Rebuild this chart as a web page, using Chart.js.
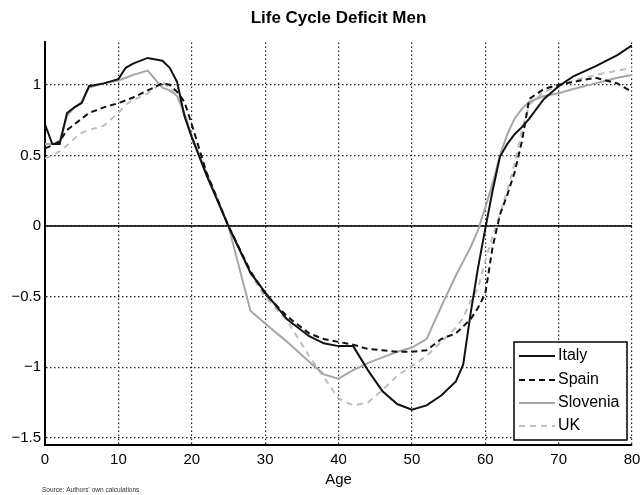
<!DOCTYPE html>
<html>
<head>
<meta charset="utf-8">
<script src="https://cdn.jsdelivr.net/npm/chart.js@4"></script>
<style>
  body { margin: 0; background: #fff; }
</style>
</head>
<body>
<canvas id="myChart" width="641" height="495"></canvas>
<script>
// ages (x) shared by every series
const ages = [0,1,2,3,4,5,6,8,10,11,12,14,16,17,18,19,20,22,25,28,30,33,36,38,40,42,44,46,48,50,52,54,56,57,58,59,60,61,62,63,64,65,66,68,70,72,75,78,80];

const italy    = [0.72,0.58,0.58,0.80,0.84,0.87,0.99,1.01,1.04,1.12,1.15,1.19,1.17,1.12,1.02,0.78,0.63,0.36,0.0,-0.33,-0.47,-0.66,-0.78,-0.83,-0.85,-0.85,-1.02,-1.17,-1.26,-1.30,-1.27,-1.20,-1.10,-0.98,-0.62,-0.30,-0.02,0.25,0.49,0.58,0.65,0.70,0.76,0.90,0.99,1.06,1.13,1.21,1.28];
const spain    = [0.55,0.57,0.60,0.68,0.72,0.76,0.80,0.84,0.87,0.89,0.91,0.96,1.01,1.00,0.95,0.88,0.72,0.38,0.0,-0.32,-0.48,-0.64,-0.76,-0.80,-0.82,-0.84,-0.87,-0.88,-0.89,-0.89,-0.88,-0.80,-0.76,-0.71,-0.66,-0.58,-0.48,-0.15,0.08,0.22,0.38,0.60,0.90,0.97,1.00,1.02,1.05,1.01,0.95];
const slovenia = [0.58,0.58,0.60,0.78,0.84,0.88,0.98,1.01,1.03,1.05,1.07,1.10,0.98,0.96,0.92,0.80,0.63,0.38,0.0,-0.60,-0.69,-0.82,-0.96,-1.05,-1.08,-1.02,-0.97,-0.93,-0.89,-0.86,-0.80,-0.57,-0.35,-0.25,-0.15,-0.03,0.13,0.30,0.50,0.65,0.76,0.83,0.88,0.92,0.94,0.97,1.01,1.05,1.07];
const uk       = [0.48,0.50,0.53,0.57,0.62,0.66,0.68,0.71,0.80,0.86,0.89,0.94,1.02,0.98,0.92,0.80,0.64,0.38,0.0,-0.34,-0.50,-0.67,-0.92,-1.07,-1.22,-1.27,-1.25,-1.16,-1.06,-0.99,-0.92,-0.82,-0.72,-0.65,-0.53,-0.44,-0.25,-0.07,0.08,0.25,0.44,0.68,0.86,0.95,0.99,1.03,1.07,1.10,1.12];

const xTicks = [0,10,20,30,40,50,60,70,80];
const yTicks = [-1.5,-1,-0.5,0,0.5,1];

const toPoints = (vals) => vals.map((v, i) => ({x: ages[i], y: v}));
const fontName = "'Liberation Sans', Arial, sans-serif";

// zero line, legend box and source note
const extras = {
    id: 'extras',
    beforeDatasetsDraw(chart) {
        const {ctx, chartArea, scales} = chart;
        const y0 = scales.y.getPixelForValue(0);
        ctx.save();
        ctx.strokeStyle = '#000';
        ctx.lineWidth = 1.6;
        ctx.beginPath();
        ctx.moveTo(chartArea.left, y0);
        ctx.lineTo(chartArea.right, y0);
        ctx.stroke();
        ctx.restore();
    },
    afterDraw(chart) {
        const {ctx, chartArea} = chart;
        const bx = chartArea.right - 118, by = chartArea.bottom - 103;
        const bw = 113, bh = 98;
        ctx.save();
        ctx.fillStyle = '#fff';
        ctx.fillRect(bx, by, bw, bh);
        ctx.strokeStyle = '#000';
        ctx.lineWidth = 1.5;
        ctx.strokeRect(bx, by, bw, bh);
        const rows = [14, 38, 61, 84];
        chart.data.datasets.forEach((ds, i) => {
            const ly = by + rows[i];
            ctx.strokeStyle = ds.borderColor;
            ctx.lineWidth = ds.borderWidth;
            ctx.setLineDash(ds.borderDash || []);
            ctx.beginPath();
            ctx.moveTo(bx + 5, ly);
            ctx.lineTo(bx + 41, ly);
            ctx.stroke();
            ctx.setLineDash([]);
            ctx.fillStyle = '#000';
            ctx.font = '16px ' + fontName;
            ctx.textBaseline = 'middle';
            ctx.textAlign = 'left';
            ctx.fillText(ds.label, bx + 44, ly);
        });
        ctx.font = '6.5px ' + fontName;
        ctx.fillStyle = '#333';
        ctx.textBaseline = 'middle';
        ctx.fillText("Source: Authors' own calculations", 42, 490);
        ctx.restore();
    }
};

const ctx = document.getElementById('myChart').getContext('2d');
const myChart = new Chart(ctx, {
    type: 'line',
    data: {
        datasets: [
            {
                label: 'Italy',
                data: toPoints(italy),
                borderColor: '#111',
                borderWidth: 2,
                pointRadius: 0
            },
            {
                label: 'Spain',
                data: toPoints(spain),
                borderColor: '#111',
                borderWidth: 2,
                borderDash: [6, 4],
                pointRadius: 0
            },
            {
                label: 'Slovenia',
                data: toPoints(slovenia),
                borderColor: '#a6a6a6',
                borderWidth: 2,
                pointRadius: 0
            },
            {
                label: 'UK',
                data: toPoints(uk),
                borderColor: '#bdbdbd',
                borderWidth: 2,
                borderDash: [6, 5],
                pointRadius: 0
            }
        ]
    },
    options: {
        responsive: false,
        animation: false,
        layout: { padding: { left: 0, right: 9, top: 0, bottom: 1 } },
        plugins: {
            legend: { display: false },
            tooltip: { enabled: false },
            title: {
                display: true,
                fullSize: false,
                text: 'Life Cycle Deficit Men',
                color: '#000',
                font: { family: fontName, size: 17, weight: 'bold' },
                padding: { top: 8, bottom: 14 }
            }
        },
        scales: {
            x: {
                type: 'linear',
                min: 0,
                max: 80,
                afterBuildTicks: (scale) => { scale.ticks = xTicks.map(v => ({value: v})); },
                afterFit: (scale) => { scale.paddingRight = 0; scale.paddingLeft = 0; },
                ticks: {
                    color: '#000',
                    padding: 6,
                    font: { family: fontName, size: 15 }
                },
                grid: { color: '#222', lineWidth: 1.2, drawTicks: false },
                border: { display: true, color: '#000', width: 2, dash: [1.5, 2.5] },
                title: {
                    display: true,
                    text: 'Age',
                    color: '#000',
                    font: { family: fontName, size: 15 },
                    padding: { top: -4, bottom: 5 }
                }
            },
            y: {
                min: -1.55,
                max: 1.3,
                afterBuildTicks: (scale) => { scale.ticks = yTicks.map(v => ({value: v})); },
                afterFit: (scale) => { scale.width = 45; },
                ticks: {
                    color: '#000',
                    padding: 4,
                    font: { family: fontName, size: 15 },
                    callback: (v) => String(v).replace('-', '\u2212')
                },
                grid: { color: '#222', lineWidth: 1.2, drawTicks: false },
                border: { display: true, color: '#000', width: 2, dash: [1.5, 2.5] }
            }
        }
    },
    plugins: [extras]
});
</script>
</body>
</html>
